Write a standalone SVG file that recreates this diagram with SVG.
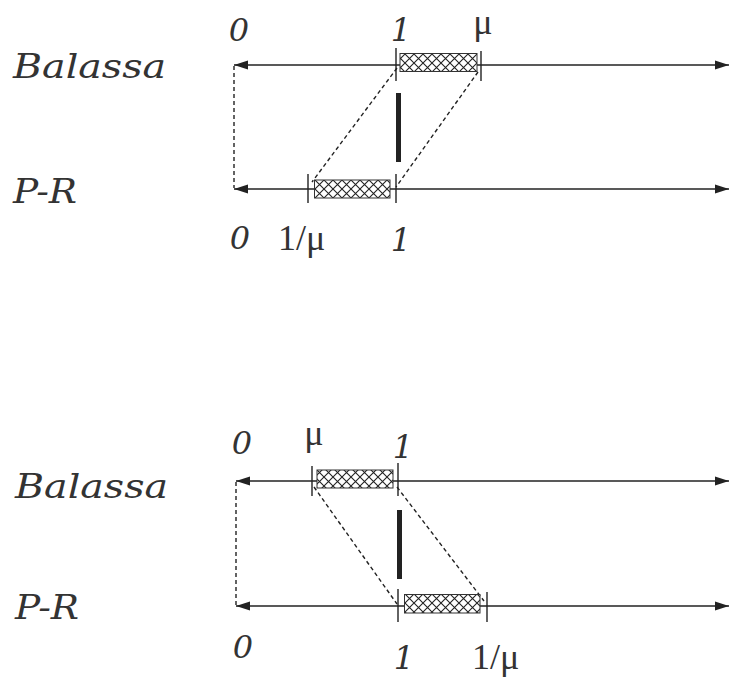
<svg xmlns="http://www.w3.org/2000/svg" width="730" height="684" viewBox="0 0 730 684">
<style>
.lab{font-family:"DejaVu Serif","Liberation Serif",serif;font-style:italic;fill:#333;}
.num{font-family:"DejaVu Serif","Liberation Serif",serif;font-style:italic;font-size:32px;fill:#333;}
.mu{font-family:"Liberation Serif","DejaVu Serif",serif;font-size:36px;fill:#333;}
.axis{stroke:#222;stroke-width:1.4;fill:none;}
.tick{stroke:#222;stroke-width:1.4;}
.dash{stroke:#222;stroke-width:1.4;stroke-dasharray:4,3;fill:none;}
.box{fill:url(#hatch);stroke:#333;stroke-width:1;}
.bar{fill:#222;}
</style>
<defs>
<pattern id="hatch" patternUnits="userSpaceOnUse" width="9" height="9">
<rect width="9" height="9" fill="#fff"/>
<path d="M0,0 L9,9 M9,0 L0,9" stroke="#222" stroke-width="1.1"/>
</pattern>
<marker id="arr" markerUnits="userSpaceOnUse" markerWidth="15" markerHeight="11" refX="14" refY="5.5" orient="auto-start-reverse">
<path d="M0,1 L14,5.5 L0,10 Z" fill="#222"/>
</marker>
</defs>

<g id="connectors">
<line class="axis" x1="234" y1="65" x2="729" y2="65" marker-start="url(#arr)" marker-end="url(#arr)"/>
<line class="axis" x1="234" y1="189" x2="729" y2="189" marker-start="url(#arr)" marker-end="url(#arr)"/>
<line class="dash" x1="234" y1="66" x2="234" y2="188"/>
<line class="dash" x1="397" y1="68" x2="312" y2="182"/>
<line class="dash" x1="478" y1="72" x2="396" y2="187"/>

<line class="axis" x1="236" y1="481" x2="729" y2="481" marker-start="url(#arr)" marker-end="url(#arr)"/>
<line class="axis" x1="236" y1="606" x2="729" y2="606" marker-start="url(#arr)" marker-end="url(#arr)"/>
<line class="dash" x1="236" y1="482" x2="236" y2="605"/>
<line class="dash" x1="314" y1="487" x2="397" y2="604"/>
<line class="dash" x1="397" y1="487" x2="484" y2="601"/>
</g>

<g id="top-balassa">
<text class="lab" x="13" y="78" font-size="33" textLength="153" lengthAdjust="spacingAndGlyphs">Balassa</text>
<text class="num" x="239" y="41" text-anchor="middle">0</text>
<text class="num" x="401" y="41" text-anchor="middle">1</text>
<text class="mu" x="483" y="34" text-anchor="middle">μ</text>
<line class="tick" x1="396" y1="48" x2="396" y2="81"/>
<line class="tick" x1="481" y1="51" x2="481" y2="81"/>
<rect class="box" x="400" y="53.5" width="77" height="18"/>
</g>

<g id="top-pr">
<text class="lab" x="13" y="203" font-size="33" textLength="64" lengthAdjust="spacingAndGlyphs">P-R</text>
<text class="num" x="240" y="249" text-anchor="middle">0</text>
<text class="mu" x="278" y="250">1/μ</text>
<text class="num" x="401" y="251" text-anchor="middle">1</text>
<line class="tick" x1="308" y1="174" x2="308" y2="203"/>
<line class="tick" x1="396" y1="174" x2="396" y2="203"/>
<rect class="box" x="314.5" y="180" width="75.5" height="18"/>
</g>

<rect id="top-bar" class="bar" x="396" y="93" width="5" height="69"/>

<g id="bottom-balassa">
<text class="lab" x="15" y="498" font-size="33" textLength="153" lengthAdjust="spacingAndGlyphs">Balassa</text>
<text class="num" x="242" y="454" text-anchor="middle">0</text>
<text class="mu" x="314" y="445" text-anchor="middle">μ</text>
<text class="num" x="403" y="458" text-anchor="middle">1</text>
<line class="tick" x1="312" y1="466" x2="312" y2="496"/>
<line class="tick" x1="398" y1="463" x2="398" y2="496"/>
<rect class="box" x="317" y="470" width="76" height="18"/>
</g>

<g id="bottom-pr">
<text class="lab" x="15" y="619" font-size="33" textLength="64" lengthAdjust="spacingAndGlyphs">P-R</text>
<text class="num" x="243" y="658" text-anchor="middle">0</text>
<text class="num" x="404" y="669" text-anchor="middle">1</text>
<text class="mu" x="472" y="669">1/μ</text>
<line class="tick" x1="398" y1="589" x2="398" y2="622"/>
<line class="tick" x1="487" y1="592" x2="487" y2="622"/>
<rect class="box" x="404.5" y="594.5" width="75.5" height="18.5"/>
</g>

<rect id="bottom-bar" class="bar" x="397" y="510" width="5" height="69"/>
</svg>
